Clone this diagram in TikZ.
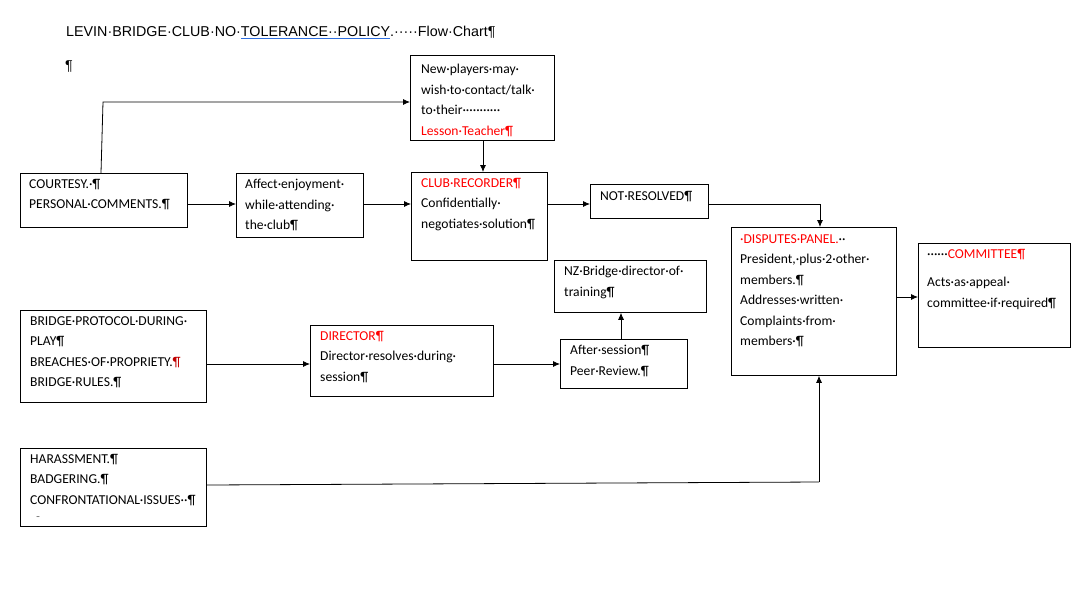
\documentclass[tikz,border=0pt]{standalone}
\usepackage{fontspec}
\setmainfont{Carlito}
\newfontfamily\arialf{Liberation Sans}
\usetikzlibrary{arrows.meta}
\definecolor{wred}{HTML}{FF0000}
\definecolor{dred}{HTML}{C00000}
\definecolor{ublue}{HTML}{2F6FE0}
\newcommand{\blueul}[1]{\setbox0\hbox{#1}\rlap{\color{ublue}\rule[-2.5pt]{\wd0}{0.7pt}}\box0}
\tikzset{
  box/.style={draw, line width=0.8pt, anchor=north west, inner sep=0pt},
  txt/.style={anchor=north west, inner sep=0pt, align=left, font=\fontsize{13.6}{20.5}\selectfont},
  arr/.style={-{Latex[length=7pt,width=6pt]}, line width=0.8pt},
  ln/.style={line width=0.8pt}
}
\begin{document}
\begin{tikzpicture}[x=1pt,y=-1pt]
\useasboundingbox (0,0) rectangle (1082,606);
% title
\node[anchor=base west, inner sep=0pt, font=\arialf\fontsize{14.3}{16}\selectfont] (title) at (66,36) {LEVIN·BRIDGE·CLUB·NO·\blueul{TOLERANCE··POLICY}.·····Flow·Chart¶};
\node[anchor=base west, inner sep=0pt, font=\arialf\fontsize{14.3}{16}\selectfont] (para) at (65,70) {¶};
% boxes
\node[box, minimum width=167pt, minimum height=54pt] (courtesy) at (20,173) {};
\node[box, minimum width=127pt, minimum height=64pt] (affect) at (236,173) {};
\node[box, minimum width=144pt, minimum height=85pt] (newp) at (410,55) {};
\node[box, minimum width=136pt, minimum height=88pt] (rec) at (411,172) {};
\node[box, minimum width=118pt, minimum height=34pt] (notres) at (590,184) {};
\node[box, minimum width=165pt, minimum height=148pt] (disp) at (731,227) {};
\node[box, minimum width=152pt, minimum height=104pt] (comm) at (918,243) {};
\node[box, minimum width=152pt, minimum height=52pt] (nz) at (554,260) {};
\node[box, minimum width=127pt, minimum height=49pt] (after) at (560,339) {};
\node[box, minimum width=186pt, minimum height=92pt] (bridge) at (20,310) {};
\node[box, minimum width=183pt, minimum height=71pt] (dir) at (310,325) {};
\node[box, minimum width=186pt, minimum height=78pt] (har) at (20,448) {};
% texts
\node[txt] (t1) at ([shift={(9,6)}]courtesy.north west) {COURTESY.·¶\\PERSONAL·COMMENTS.¶};
\node[txt] (t2) at ([shift={(9,6)}]affect.north west) {Affect·enjoyment·\\while·attending·\\the·club¶};
\begin{scope}
\clip (newp.north west) rectangle (newp.south east);
\node[txt] (t3) at ([shift={(11,9)}]newp.north west) {New·players·may·\\wish·to·contact/talk·\\to·their···········\\\textcolor{wred}{Lesson·Teacher¶}};
\end{scope}
\node[txt] (t4) at ([shift={(10,6)}]rec.north west) {\textcolor{wred}{CLUB·RECORDER¶}\\Confidentially·\\negotiates·solution¶};
\node[txt] (t5) at ([shift={(10,7)}]notres.north west) {NOT·RESOLVED¶};
\node[txt] (t6) at ([shift={(9,7)}]disp.north west) {\textcolor{wred}{·DISPUTES·PANEL.}··\\President,·plus·2·other·\\members.¶\\Addresses·written·\\Complaints·from·\\members·¶};
\node[txt] (t7) at ([shift={(9,6)}]comm.north west) {······\textcolor{wred}{COMMITTEE¶}\\[8pt]Acts·as·appeal·\\committee·if·required¶};
\node[txt] (t8) at ([shift={(10,6)}]nz.north west) {NZ·Bridge·director·of·\\training¶};
\node[txt] (t9) at ([shift={(10,6)}]after.north west) {After·session¶\\Peer·Review.¶};
\node[txt] (t10) at ([shift={(10,6)}]bridge.north west) {BRIDGE·PROTOCOL·DURING·\\PLAY¶\\BREACHES·OF·PROPRIETY.\textcolor{dred}{¶}\\BRIDGE·RULES.¶};
\node[txt] (t11) at ([shift={(10,6)}]dir.north west) {\textcolor{wred}{DIRECTOR¶}\\Director·resolves·during·\\session¶};
\node[txt] (t12) at ([shift={(10,6)}]har.north west) {HARASSMENT.¶\\BADGERING.¶\\CONFRONTATIONAL·ISSUES··¶};
\node[anchor=north west, inner sep=0pt, font=\fontsize{8}{8}\selectfont] (dash) at (36,517) {–};
% connectors
\draw[arr] (courtesy.north -| 101,0) -- (103,102) -- (newp.west |- 0,102);
\draw[arr] (courtesy.east |- 0,204) -- (affect.west |- 0,204);
\draw[arr] (affect.east |- 0,204) -- (rec.west |- 0,204);
\draw[arr] (newp.south -| 483,0) -- (rec.north -| 483,0);
\draw[arr] (rec.east |- 0,204) -- (notres.west |- 0,204);
\draw[arr] (notres.east |- 0,204) -| (disp.north -| 820,0);
\draw[arr] (disp.east |- 0,297) -- (comm.west |- 0,297);
\draw[arr] (bridge.east |- 0,364) -- (dir.west |- 0,364);
\draw[arr] (dir.east |- 0,364) -- (after.west |- 0,364);
\draw[arr] (after.north -| 621,0) -- (nz.south -| 621,0);
\draw[ln] (har.east |- 0,485) -- (819,482) coordinate (hc);
\draw[arr] (hc) -- (disp.south -| hc);
\end{tikzpicture}
\end{document}
